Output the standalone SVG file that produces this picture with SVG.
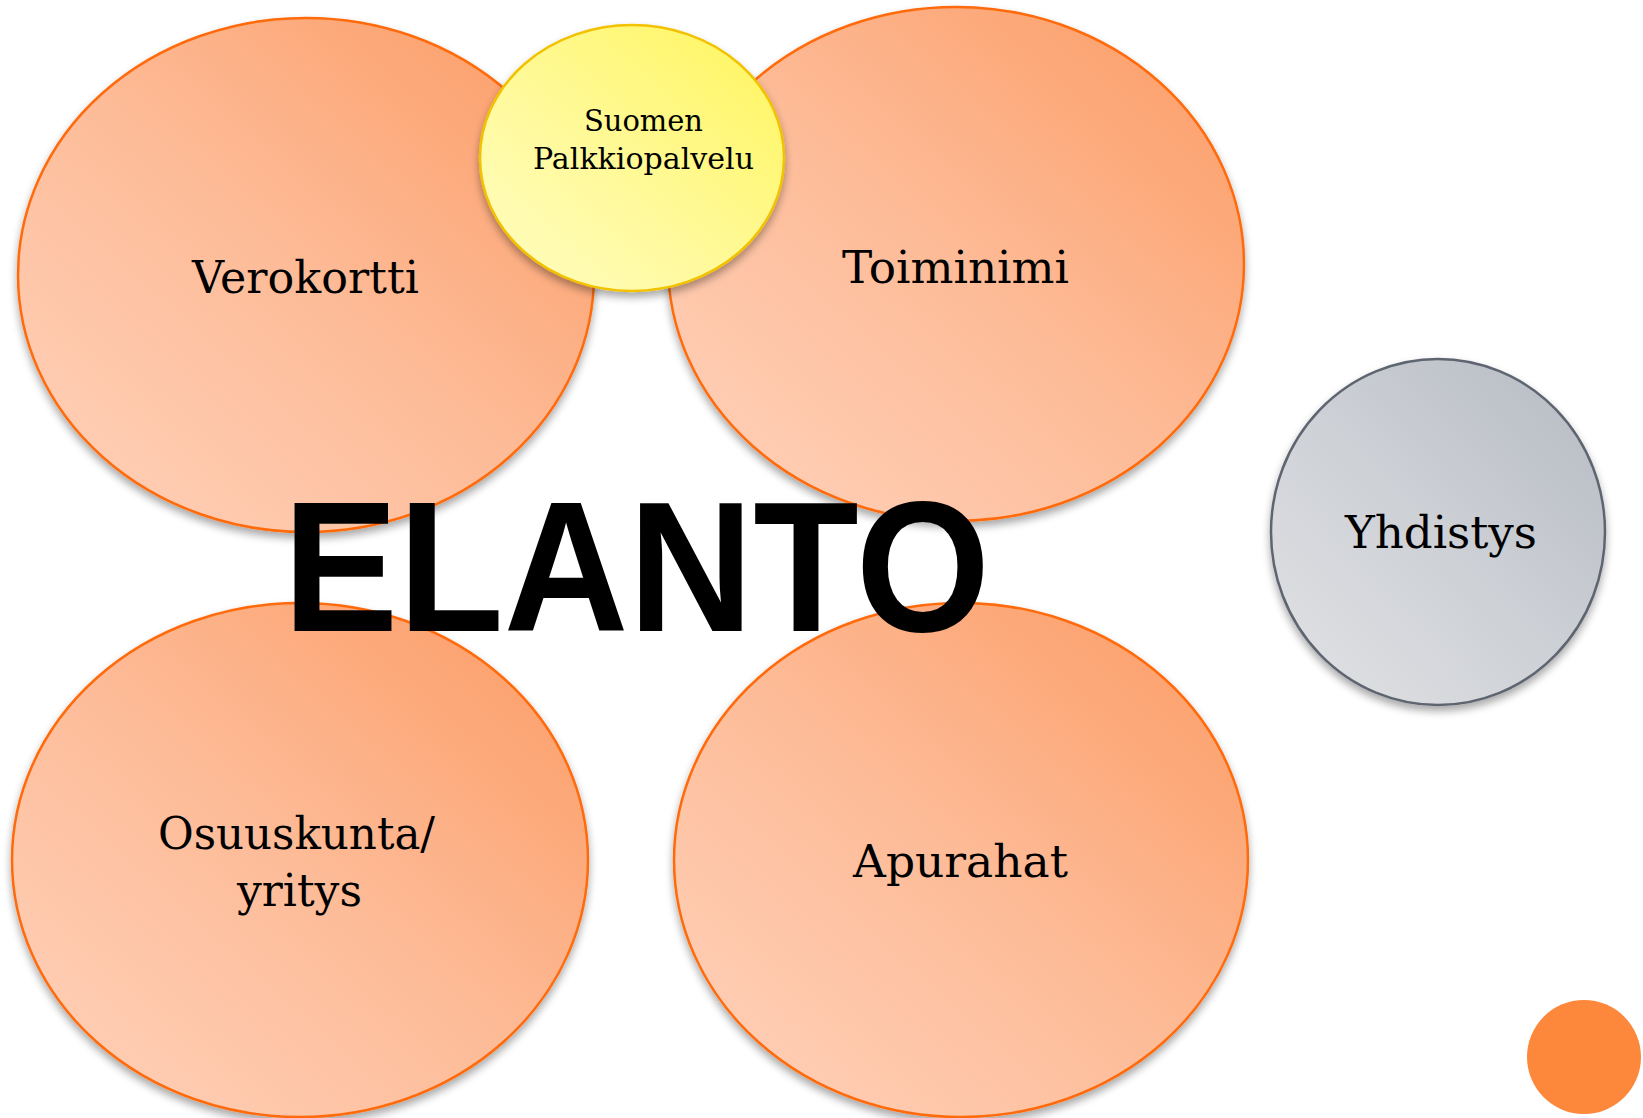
<svg xmlns="http://www.w3.org/2000/svg" width="1643" height="1118" viewBox="0 0 1643 1118">
<defs>
<linearGradient id="gOrange" x1="0" y1="1" x2="1" y2="0">
<stop offset="0" stop-color="#ffd3bd"/>
<stop offset="0.5" stop-color="#fdbb97"/>
<stop offset="1" stop-color="#fc9a62"/>
</linearGradient>
<linearGradient id="gYellow" x1="0" y1="1" x2="1" y2="0">
<stop offset="0" stop-color="#fffdc4"/>
<stop offset="0.5" stop-color="#fff994"/>
<stop offset="1" stop-color="#fff55a"/>
</linearGradient>
<linearGradient id="gGray" x1="0" y1="1" x2="1" y2="0">
<stop offset="0" stop-color="#e2e3e6"/>
<stop offset="0.5" stop-color="#cdd0d5"/>
<stop offset="1" stop-color="#b5b9c2"/>
</linearGradient>
<filter id="shadow" x="-10%" y="-10%" width="120%" height="125%">
<feGaussianBlur in="SourceAlpha" stdDeviation="4"/>
<feOffset dx="0" dy="5" result="b"/>
<feComponentTransfer><feFuncA type="linear" slope="0.35"/></feComponentTransfer>
<feMerge><feMergeNode/><feMergeNode in="SourceGraphic"/></feMerge>
</filter>
</defs>
<style>
.orange{fill:url(#gOrange);stroke:#ff6a0a;stroke-width:2.5;filter:url(#shadow)}
.yellow{fill:url(#gYellow);stroke:#f2c200;stroke-width:2.5;filter:url(#shadow)}
.gray{fill:url(#gGray);stroke:#5e6570;stroke-width:2.5;filter:url(#shadow)}
.lbl{font-family:"DejaVu Serif","Liberation Serif",serif;fill:#000;text-anchor:middle}
.big{font-family:"Liberation Sans","DejaVu Sans",sans-serif;font-weight:bold;fill:#000}
</style>
<rect width="1643" height="1118" fill="#ffffff"/>
<g id="connectors"></g>
<g id="node-verokortti">
<ellipse class="orange" cx="306" cy="275" rx="288" ry="257"/>
<text class="lbl" x="305.5" y="293" font-size="44" textLength="227" lengthAdjust="spacingAndGlyphs">Verokortti</text>
</g>
<g id="node-toiminimi">
<ellipse class="orange" cx="956" cy="264" rx="288" ry="257"/>
<text class="lbl" x="955.5" y="283" font-size="45" textLength="227" lengthAdjust="spacingAndGlyphs">Toiminimi</text>
</g>
<g id="node-palkkiopalvelu">
<ellipse class="yellow" cx="632" cy="158" rx="152" ry="133"/>
<text class="lbl" x="643.5" y="131" font-size="30" textLength="119" lengthAdjust="spacingAndGlyphs">Suomen</text>
<text class="lbl" x="643.5" y="169" font-size="30" textLength="221" lengthAdjust="spacingAndGlyphs">Palkkiopalvelu</text>
</g>
<g id="node-yhdistys">
<ellipse class="gray" cx="1438" cy="532" rx="167" ry="173"/>
<text class="lbl" x="1441" y="548" font-size="44" textLength="192" lengthAdjust="spacingAndGlyphs">Yhdistys</text>
</g>
<g id="node-osuuskunta">
<ellipse class="orange" cx="300" cy="860" rx="288" ry="257"/>
<text class="lbl" x="296.5" y="849" font-size="44" textLength="277" lengthAdjust="spacingAndGlyphs">Osuuskunta/</text>
<text class="lbl" x="299.5" y="906" font-size="44" textLength="125" lengthAdjust="spacingAndGlyphs">yritys</text>
</g>
<g id="node-apurahat">
<ellipse class="orange" cx="961" cy="860" rx="287" ry="257"/>
<text class="lbl" x="960.5" y="877" font-size="44" textLength="215" lengthAdjust="spacingAndGlyphs">Apurahat</text>
</g>
<g id="title">
<text class="big" x="283" y="631" font-size="185" textLength="707" lengthAdjust="spacingAndGlyphs">ELANTO</text>
</g>
<g id="decor">
<circle cx="1584" cy="1057" r="57" fill="#fd873a"/>
</g>
</svg>
